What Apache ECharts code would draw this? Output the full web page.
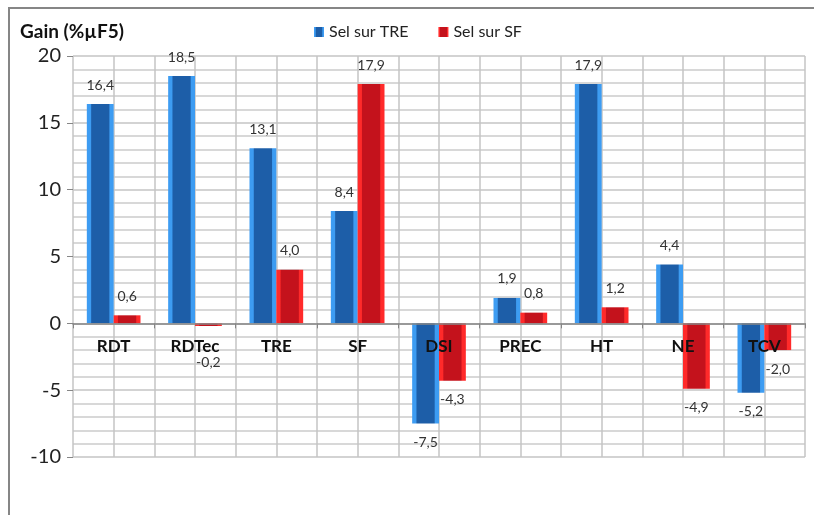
<!DOCTYPE html>
<html>
<head>
<meta charset="utf-8">
<script src="https://cdn.jsdelivr.net/npm/echarts@6/dist/echarts.min.js"></script>
<style>
  html, body { margin: 0; padding: 0; background: #fff; }
  #chart { width: 814px; height: 515px; }
</style>
</head>
<body>
<div id="chart"></div>
<script>
// données du graphique
const categories = ['RDT', 'RDTec', 'TRE', 'SF', 'DSI', 'PREC', 'HT', 'NE', 'TCV'];
const selSurTRE = [16.4, 18.5, 13.1, 8.4, -7.5, 1.9, 17.9, 4.4, -5.2];
const selSurSF = [0.6, -0.2, 4.0, 17.9, -4.3, 0.8, 1.2, -4.9, -2.0];
const seriesNames = ['Sel sur TRE', 'Sel sur SF'];
const yTicks = { min: -10, max: 20, step: 5 };

const FONT = 'Lato, "Open Sans", sans-serif';

// zone de tracé
const gridTop = 56, gridBottom = 58, H = 515;
const plotH = H - gridTop - gridBottom;
const pxPerUnit = plotH / (yTicks.max - yTicks.min);
// décalage pour placer l'axe des catégories sur la ligne du zéro
const zeroOffset = -pxPerUnit * (0 - yTicks.min);

// dégradé horizontal pour imiter le biseau des barres Excel
function bevel(light, dark) {
  return new echarts.graphic.LinearGradient(0, 0, 1, 0, [
    { offset: 0, color: light },
    { offset: 0.14, color: light },
    { offset: 0.18, color: dark },
    { offset: 0.82, color: dark },
    { offset: 0.86, color: light },
    { offset: 1, color: light }
  ]);
}

// étiquettes au-dessus / au-dessous, poussées sous les noms de catégorie si la barre est courte
function withLabels(vals) {
  return vals.map(function (v) {
    if (v < 0) {
      const len = -v * pxPerUnit;
      return { value: v, label: { position: 'bottom', distance: Math.max(12, 32 - len) } };
    }
    return { value: v, label: { position: 'top' } };
  });
}

const labelStyle = {
  show: true,
  distance: 12,
  fontFamily: FONT,
  fontSize: 14,
  color: '#333',
  formatter: function (p) { return p.value.toFixed(1).replace('.', ','); }
};

const chart = echarts.init(document.getElementById('chart'));
const option = {
  animation: false,
  backgroundColor: '#fff',
  title: {
    text: 'Gain (%µF5)',
    left: 15, top: 17,
    textStyle: { fontFamily: FONT, fontSize: 19, fontWeight: 'bold', color: '#111' }
  },
  legend: {
    data: seriesNames,
    left: 309, top: 19,
    icon: 'rect',
    itemWidth: 10, itemHeight: 10,
    itemGap: 30,
    textStyle: { fontFamily: FONT, fontSize: 16, color: '#222' }
  },
  graphic: [{
    type: 'rect',
    shape: { x: 9, y: 8, width: 900, height: 600 },
    style: { fill: 'none', stroke: '#868686', lineWidth: 2 },
    silent: true
  }],
  grid: { left: 73, right: 9, top: gridTop, bottom: gridBottom },
  xAxis: [{
    type: 'category',
    data: categories,
    z: 10,
    offset: zeroOffset,
    axisLine: { onZero: false, lineStyle: { color: '#868686', width: 1.5 } },
    axisTick: { show: true, length: 5, lineStyle: { color: '#868686' } },
    axisLabel: {
      margin: 15,
      fontFamily: FONT, fontSize: 17, fontWeight: 'bold', color: '#111'
    },
    splitLine: { show: false }
  }, {
    // axe caché pour les lignes verticales à chaque demi-catégorie
    type: 'value',
    min: 0, max: categories.length * 2, interval: 1,
    axisLine: { show: false },
    axisTick: { show: false },
    axisLabel: { show: false },
    splitLine: { show: true, lineStyle: { color: '#c4c4c4', width: 1.5 } }
  }],
  yAxis: {
    type: 'value',
    min: yTicks.min, max: yTicks.max, interval: yTicks.step,
    axisLine: { show: false },
    axisTick: { show: true, length: 6, lineStyle: { color: '#868686' } },
    axisLabel: {
      margin: 12,
      fontFamily: FONT, fontSize: 20, color: '#222'
    },
    splitLine: { show: true, lineStyle: { color: '#c4c4c4', width: 1.5 } },
    minorTick: { show: false, splitNumber: 5 },
    minorSplitLine: { show: true, lineStyle: { color: '#cccccc', width: 1.5 } }
  },
  series: [{
    name: seriesNames[0],
    type: 'bar',
    xAxisIndex: 0,
    data: withLabels(selSurTRE),
    barGap: 0,
    barCategoryGap: '34%',
    itemStyle: { color: bevel('#3d9cf2', '#1d5ea8') },
    label: labelStyle
  }, {
    name: seriesNames[1],
    type: 'bar',
    xAxisIndex: 0,
    data: withLabels(selSurSF),
    itemStyle: { color: bevel('#ff2a2a', '#c4121c') },
    label: labelStyle
  }]
};
chart.setOption(option);
</script>
</body>
</html>
